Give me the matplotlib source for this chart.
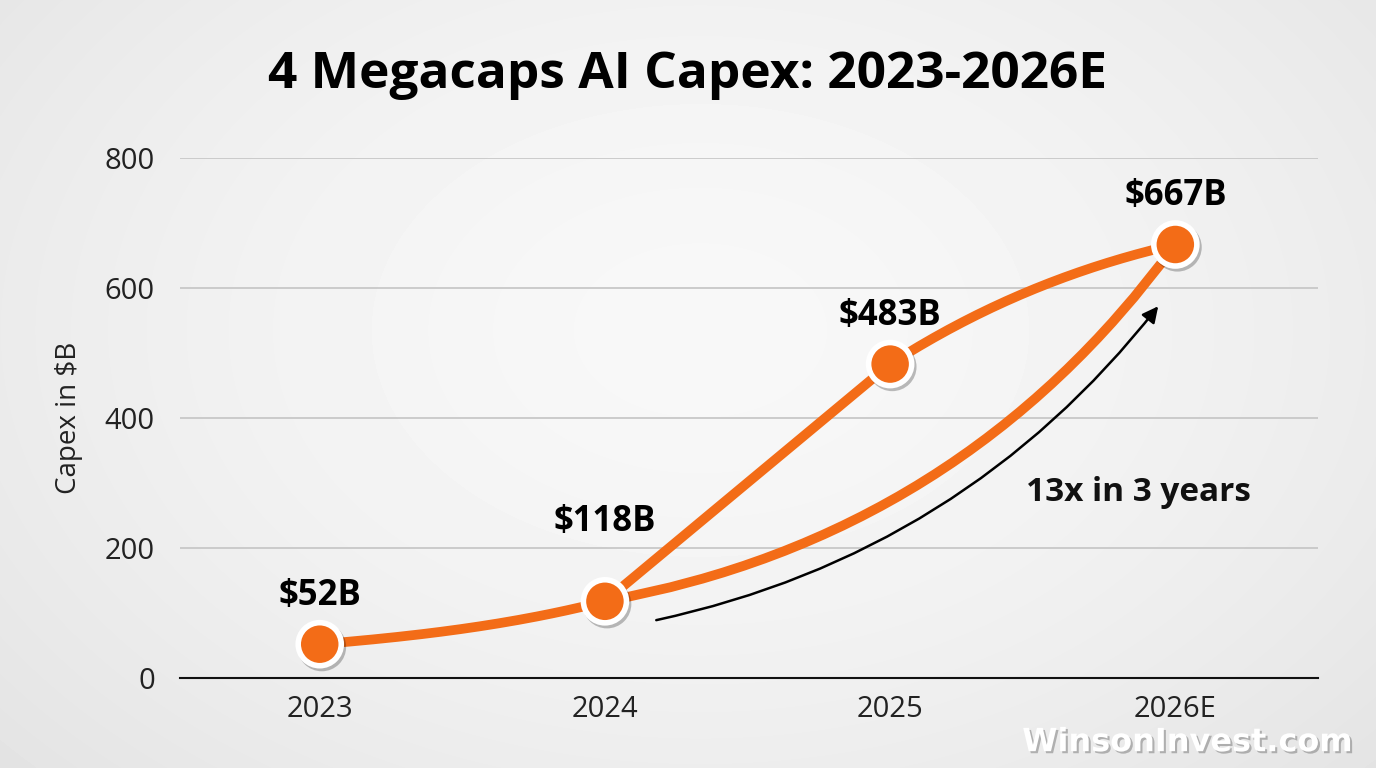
import numpy as np
import matplotlib.pyplot as plt
import matplotlib.patheffects as pe

# data
years = ['2023', '2024', '2025', '2026E']
capex = [52, 118, 483, 667]
value_labels = ['$52B', '$118B', '$483B', '$667B']
y_ticks = [0, 200, 400, 600, 800]
callout = '13x in 3 years'

ORANGE = '#F36C17'
plt.rcParams['font.family'] = ['Open Sans', 'DejaVu Sans']

fig = plt.figure(figsize=(13.76, 7.68), dpi=100)

# soft radial background
bg = fig.add_axes([0, 0, 1, 1], zorder=-10)
yy, xx = np.mgrid[0:768, 0:1376]
r = np.sqrt(((xx - 700) / 900) ** 2 + ((yy - 330) / 620) ** 2)
shade = 0.972 - 0.075 * np.clip(r, 0, 1.4) ** 1.6
bg.imshow(shade, cmap='gray', vmin=0, vmax=1, aspect='auto', extent=[0, 1, 0, 1])
bg.set_xlim(0, 1)
bg.set_ylim(0, 1)
bg.axis('off')

ax = fig.add_axes([0.1308, 0.1172, 0.8270, 0.677])
ax.set_facecolor('none')
x = np.arange(len(years))


def hm(a, b):
    return 2 / (1 / a + 1 / b)


def smooth(y, n=60):
    # piecewise cubic hermite; straight where the curve speeds up, rounded where it slows
    y = np.asarray(y, float)
    d = np.diff(y)
    last = len(d) - 1
    xs, ys = [], []
    for i in range(len(d)):
        if i == 0:
            ms = 0.55 * d[i]
        elif d[i] > d[i - 1]:
            ms = d[i]
        else:
            ms = hm(d[i - 1], d[i]) * 1.15
        if i == last:
            me = 0.55 * d[i]
        elif d[i + 1] < d[i]:
            me = d[i]
        else:
            me = hm(d[i], d[i + 1])
        t = np.linspace(0, 1, n)
        h00 = 2 * t**3 - 3 * t**2 + 1
        h10 = t**3 - 2 * t**2 + t
        h01 = -2 * t**3 + 3 * t**2
        h11 = t**3 - t**2
        xs.append(i + t)
        ys.append(h00 * y[i] + h10 * ms + h01 * y[i + 1] + h11 * me)
    return np.concatenate(xs), np.concatenate(ys)


sx, sy = smooth(capex)
ax.plot(sx, sy, color=ORANGE, lw=7, solid_capstyle='round', solid_joinstyle='round', zorder=3)

# second curved trace 2024 -> 2026E
ax.annotate('', xy=(x[3], capex[3]), xytext=(x[1], capex[1]),
            arrowprops=dict(arrowstyle='-', color=ORANGE, lw=7, shrinkA=0, shrinkB=0,
                            connectionstyle='arc3,rad=0.2'), zorder=3)

# markers
ax.plot(x, capex, 'o', ms=31, mfc=ORANGE, mec='white', mew=4, zorder=5,
        path_effects=[pe.SimpleLineShadow(offset=(1.5, -2), alpha=0.25), pe.Normal()])

# value labels
offsets = [22, 44, 22, 22]
for xi, v, lab, off in zip(x, capex, value_labels, offsets):
    ax.annotate(lab, (xi, v), xytext=(0, off), textcoords='offset points',
                ha='center', va='bottom', fontsize=25, fontweight='bold', color='black')

# growth arrow + callout
ax.annotate('', xy=(x[3] - 0.06, 572), xytext=(x[1] + 0.18, 89),
            arrowprops=dict(arrowstyle='-|>', color='black', lw=1.8, mutation_scale=24,
                            shrinkA=0, shrinkB=0, connectionstyle='arc3,rad=0.18'), zorder=4)
ax.text(x[3] - 0.13, 285, callout, ha='center', va='center', fontsize=24,
        fontweight='bold', color='#111111')

ax.set_xlim(-0.49, 3.5)
ax.set_ylim(0, 800)
ax.set_xticks(x)
ax.set_xticklabels(years)
ax.set_yticks(y_ticks)
ax.tick_params(length=0, labelsize=21, labelcolor='#222222')
ax.tick_params(axis='y', pad=18)
ax.tick_params(axis='x', pad=12)
ax.grid(axis='y', color='#c4c4c4', lw=1.2)
ax.set_axisbelow(True)
for s in ['top', 'right', 'left']:
    ax.spines[s].set_visible(False)
ax.spines['bottom'].set_color('#111111')
ax.spines['bottom'].set_linewidth(1.5)
ax.set_ylabel('Capex in $B', fontsize=20, color='#222222', labelpad=16)

fig.text(0.5, 0.902, '4 Megacaps AI Capex: 2023-2026E', ha='center', va='center',
         fontsize=37, fontweight='bold', color='black')

fig.text(0.863, 0.033, 'WinsonInvest.com', ha='center', va='center', fontsize=23,
         fontweight='bold', color='white', family='DejaVu Sans',
         path_effects=[pe.withSimplePatchShadow(offset=(1.5, -1.5), shadow_rgbFace='#888888', alpha=0.6)])

fig.savefig('out.png', dpi=100)
